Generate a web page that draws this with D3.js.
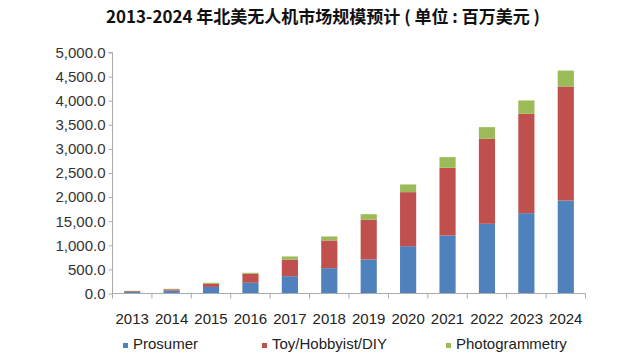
<!DOCTYPE html>
<html><head><meta charset="utf-8">
<script src="https://cdn.jsdelivr.net/npm/d3@7"></script>
<style>body{margin:0;background:#fff}svg{display:block}</style>
</head><body>
<svg id="c" width="640" height="363"></svg>
<script>
const years = ["2013","2014","2015","2016","2017","2018","2019","2020","2021","2022","2023","2024"];
const prosumer = [35, 60, 136, 222, 359, 525, 705, 982, 1204, 1446, 1667, 1930];
const toy = [15, 27, 65, 187, 346, 575, 828, 1121, 1404, 1763, 2062, 2365];
const photo = [6, 10, 21, 21, 63, 83, 112, 159, 221, 242, 276, 330];
const seriesNames = ["Prosumer", "Toy/Hobbyist/DIY", "Photogrammetry"];
const colors = ["#4f81bd", "#c0504d", "#9bbb59"];
const yTickValues = [0, 500, 1000, 1500, 2000, 2500, 3000, 3500, 4000, 4500, 5000];
const yTickLabels = ["0.0", "500.0", "1,000.0", "15,00.0", "2,000.0", "2,500.0", "3,000.0", "3,500.0", "4,000.0", "4,500.0", "5,000.0"];
const title = "2013-2024 年北美无人机市场规模预计 ( 单位 : 百万美元 )";

const svg = d3.select("#c");
const mLeft = 112.5, mRight = 585.5, mTop = 52.5, mBottom = 293.5;
const font = "'Liberation Sans', Arial, sans-serif";

const x = d3.scaleBand().domain(years).range([mLeft, mRight]).paddingInner(0.59).paddingOuter(0.295);
const y = d3.scaleLinear().domain([0, 5000]).range([mBottom, mTop]);

const table = years.map((yr, i) => ({year: yr, Prosumer: prosumer[i], "Toy/Hobbyist/DIY": toy[i], Photogrammetry: photo[i]}));
const stacked = d3.stack().keys(seriesNames)(table);

svg.append("text").attr("x", 323).attr("y", 23).attr("text-anchor", "middle")
  .attr("font-family", "'Noto Sans CJK SC', sans-serif").attr("font-weight", "bold")
  .attr("font-size", 17).attr("fill", "#111").text(title);

svg.append("g").selectAll("g").data(stacked).join("g")
  .attr("fill", (d, i) => colors[i])
  .selectAll("rect").data(d => d).join("rect")
  .attr("x", d => x(d.data.year)).attr("width", x.bandwidth())
  .attr("y", d => y(d[1])).attr("height", d => y(d[0]) - y(d[1]));

// y axis
const yAxis = d3.axisLeft(y).tickValues(yTickValues).tickSize(4).tickPadding(3)
  .tickFormat((d, i) => yTickLabels[i]);
const gy = svg.append("g").attr("transform", `translate(${mLeft},0)`).call(yAxis);
gy.select(".domain").attr("stroke", "#aaa").attr("d", `M-4,${mTop}H0V${mBottom}`);
gy.selectAll(".tick line").attr("stroke", "#aaa");
gy.selectAll(".tick text").attr("font-family", font)
  .attr("font-size", 15).attr("fill", "#333");

// x axis
const gx = svg.append("g").attr("transform", `translate(0,${mBottom})`);
gx.append("line").attr("x1", mLeft).attr("x2", mRight).attr("stroke", "#aaa");
const bStep = (mRight - mLeft) / years.length;
gx.selectAll("line.t").data(d3.range(years.length + 1)).join("line").attr("class", "t")
  .attr("x1", i => mLeft + i * bStep).attr("x2", i => mLeft + i * bStep)
  .attr("y1", 0).attr("y2", 5).attr("stroke", "#aaa");
gx.selectAll("text").data(years).join("text")
  .attr("x", d => x(d) + x.bandwidth() / 2).attr("y", 30).attr("text-anchor", "middle")
  .attr("font-family", font).attr("font-size", 15).attr("fill", "#222")
  .text(d => d);

// legend
const legX = [123, 262, 446];
const leg = svg.append("g").selectAll("g").data(seriesNames).join("g")
  .attr("transform", (d, i) => `translate(${legX[i]},349)`);
leg.append("rect").attr("x", 0).attr("y", -6).attr("width", 5).attr("height", 5).attr("fill", (d, i) => colors[i]);
leg.append("text").attr("x", 10).attr("y", 0).attr("font-family", font)
  .attr("font-size", 15).attr("fill", "#222").text(d => d);
</script>
</body></html>
